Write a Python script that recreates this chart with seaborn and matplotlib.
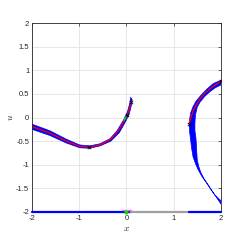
import numpy as np
import pandas as pd
import matplotlib
matplotlib.use("Agg")
import matplotlib.pyplot as plt
import seaborn as sns

# linha central (vermelha) - ramo esquerdo
esq_x = [-2.0, -1.62, -1.27, -0.99, -0.775, -0.56, -0.35, -0.18, -0.035, 0.035, 0.105]
esq_u = [-0.19, -0.33, -0.50, -0.61, -0.625, -0.575, -0.47, -0.29, -0.046, 0.095, 0.34]

# faixa azul - ramo esquerdo (borda superior e inferior)
esq_sup_x = [-2.0, -1.62, -1.27, -0.99, -0.775, -0.56, -0.35, -0.2, -0.06, 0.02, 0.07, 0.09]
esq_sup_u = [-0.14, -0.28, -0.46, -0.58, -0.60, -0.555, -0.45, -0.28, -0.05, 0.12, 0.30, 0.43]
esq_inf_x = [0.12, 0.11, 0.06, -0.01, -0.15, -0.33, -0.56, -0.775, -0.99, -1.27, -1.62, -2.0]
esq_inf_u = [0.38, 0.28, 0.08, -0.07, -0.32, -0.50, -0.60, -0.65, -0.64, -0.54, -0.38, -0.25]

# linha central (vermelha) - ramo direito
dir_x = [1.33, 1.37, 1.41, 1.48, 1.56, 1.66, 1.77, 1.88, 2.0]
dir_u = [-0.13, 0.02, 0.13, 0.27, 0.40, 0.52, 0.61, 0.69, 0.76]

# faixa azul - ramo direito (crescente)
dir_ext_x = [2.0, 1.84, 1.70, 1.56, 1.47, 1.41, 1.36, 1.34, 1.33, 1.34, 1.36, 1.38, 1.41, 1.46,
             1.52, 1.60, 1.70, 1.78, 1.87, 2.0]
dir_ext_u = [0.79, 0.72, 0.60, 0.45, 0.34, 0.23, 0.10, -0.02, -0.16, -0.32, -0.48, -0.65, -0.83,
             -0.97, -1.11, -1.25, -1.39, -1.51, -1.64, -1.76]
dir_int_x = [2.0, 1.90, 1.81, 1.74, 1.64, 1.57, 1.53, 1.50, 1.49, 1.48, 1.47, 1.45, 1.45, 1.46,
             1.50, 1.56, 1.66, 1.77, 1.88, 2.0]
dir_int_u = [-1.83, -1.68, -1.55, -1.44, -1.29, -1.15, -1.03, -0.90, -0.75, -0.55, -0.42, -0.28,
             -0.12, 0.05, 0.22, 0.33, 0.45, 0.55, 0.63, 0.69]

# marcadores pretos
marc_x = [0.105, 0.02, -0.8, 1.33, 2.0]
marc_u = [0.33, 0.05, -0.62, -0.13, 0.77]

# linha do fundo (u = -2)
fundo_azul1 = [-2.0, 0.1]
fundo_cinza = [0.1, 1.32]
fundo_azul2 = [1.32, 2.0]

sns.set_style("white")
plt.rcParams['font.family'] = ['Liberation Sans', 'DejaVu Sans']
plt.rcParams['mathtext.fontset'] = 'cm'

fig = plt.figure(figsize=(2.45, 2.45), dpi=100)
ax = fig.add_axes([0.1306, 0.1347, 0.771, 0.771])

ax.grid(True, color='#e3e3e3', linewidth=0.6)
ax.set_axisbelow(True)

ax.fill(esq_sup_x + esq_inf_x, esq_sup_u + esq_inf_u, color='blue', lw=0.5, ec='blue')
ax.fill(dir_ext_x + dir_int_x, dir_ext_u + dir_int_u, color='blue', lw=0.5, ec='blue')

df_esq = pd.DataFrame({'x': esq_x, 'u': esq_u})
df_dir = pd.DataFrame({'x': dir_x, 'u': dir_u})
sns.lineplot(data=df_esq, x='x', y='u', sort=False, estimator=None, color='red', lw=0.9, ax=ax)
sns.lineplot(data=df_dir, x='x', y='u', sort=False, estimator=None, color='red', lw=0.9, ax=ax)

ax.plot([-0.05, 0.0], [-0.05, 0.02], color='#00dd00', lw=1.2)
ax.scatter(marc_x, marc_u, marker='x', s=6, color='black', lw=0.6, zorder=5)

ax.plot(fundo_azul1, [-2, -2], color='blue', lw=1.6, clip_on=False, zorder=4)
ax.plot(fundo_cinza, [-2, -2], color='#a0a0a0', lw=1.6, clip_on=False, zorder=4)
ax.plot(fundo_azul2, [-2, -2], color='blue', lw=1.6, clip_on=False, zorder=4)
ax.plot([-0.1, 0.1], [-1.96, -1.96], color='#ff66ff', lw=1.0, clip_on=False, zorder=4)
ax.scatter([0.0], [-2.0], s=4, color='#00dd00', zorder=6, clip_on=False)

ax.set_xlim(-2, 2)
ax.set_ylim(-2, 2)
ax.set_xticks([-2, -1, 0, 1, 2])
ax.set_yticks([-2, -1.5, -1, -0.5, 0, 0.5, 1, 1.5, 2])
ax.set_yticklabels(['-2', '-1.5', '-1', '-0.5', '0', '0.5', '1', '1.5', '2'])
ax.set_xticklabels(['-2', '-1', '0', '1', '2'])
ax.tick_params(direction='in', length=2, width=0.5, labelsize=5.5, colors='#262626', pad=2,
               top=True, right=True)
for s in ax.spines.values():
    s.set_color('#262626')
    s.set_linewidth(0.6)

ax.set_xlabel('$x$', fontsize=7, labelpad=1)
ax.set_ylabel('$u$', fontsize=7, labelpad=1)

fig.savefig('out.png', dpi=100)
